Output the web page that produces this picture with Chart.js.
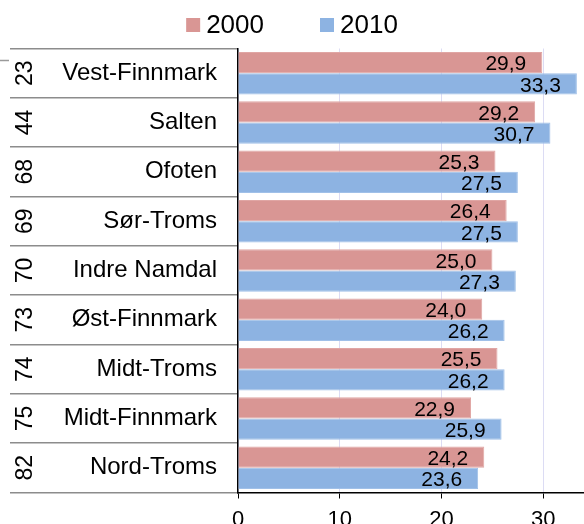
<!DOCTYPE html>
<html>
<head>
<meta charset="utf-8">
<script src="https://cdn.jsdelivr.net/npm/chart.js@4/dist/chart.umd.min.js"></script>
<style>
  html, body { margin: 0; padding: 0; background: #fff; overflow: hidden; }
  #wrap { width: 584px; height: 524px; }
</style>
</head>
<body>
<div id="wrap"><canvas id="chart"></canvas></div>
<script>
const regionCodes = ['23', '44', '68', '69', '70', '73', '74', '75', '82'];
const regions = ['Vest-Finnmark', 'Salten', 'Ofoten', 'Sør-Troms', 'Indre Namdal', 'Øst-Finnmark', 'Midt-Troms', 'Midt-Finnmark', 'Nord-Troms'];
const values2000 = [29.9, 29.2, 25.3, 26.4, 25.0, 24.0, 25.5, 22.9, 24.2];
const values2010 = [33.3, 30.7, 27.5, 27.5, 27.3, 26.2, 26.2, 25.9, 23.6];
const seriesLabels = ['2000', '2010'];
const xTickValues = [0, 10, 20, 30];

const colors = {
  red: '#d99694',
  redEdge: '#e0a6a4',
  blue: '#8db3e2',
  blueEdge: '#a0c0e8',
};

const FONT = '"Liberation Sans", Arial, Helvetica, sans-serif';

function formatValue(value) {
  return value.toFixed(1).replace('.', ',');
}

// region codes (rotated) and names to the left of the axis
const regionTable = {
  id: 'regionTable',
  afterDraw(chart) {
    const { ctx } = chart;
    const yScale = chart.scales.y;
    ctx.save();
    ctx.fillStyle = '#000';
    ctx.textBaseline = 'middle';
    regions.forEach((name, i) => {
      const y = yScale.getPixelForValue(i);
      ctx.font = `24px ${FONT}`;
      ctx.textAlign = 'right';
      ctx.fillText(name, yScale.right - 21, y);

      ctx.save();
      ctx.translate(25, y);
      ctx.rotate(-Math.PI / 2);
      ctx.textAlign = 'center';
      ctx.font = `23px ${FONT}`;
      ctx.fillText(regionCodes[i], 0, 1);
      ctx.restore();
    });
    // short stub in the left margin
    ctx.strokeStyle = '#9a9a9a';
    ctx.lineWidth = 1.5;
    ctx.beginPath();
    ctx.moveTo(0, yScale.top + 12);
    ctx.lineTo(9, yScale.top + 12);
    ctx.stroke();
    ctx.restore();
  },
};

// value labels just inside the end of each bar
const barValues = {
  id: 'barValues',
  afterDatasetsDraw(chart) {
    const { ctx } = chart;
    ctx.save();
    ctx.font = `21px ${FONT}`;
    ctx.fillStyle = '#000';
    ctx.textAlign = 'right';
    ctx.textBaseline = 'middle';
    chart.data.datasets.forEach((dataset, di) => {
      chart.getDatasetMeta(di).data.forEach((bar, i) => {
        ctx.fillText(formatValue(dataset.data[i]), bar.x - 16, bar.y + 2);
      });
    });
    ctx.restore();
  },
};

// legend row above the plot
const topLegend = {
  id: 'topLegend',
  afterDraw(chart) {
    const { ctx } = chart;
    const box = 14;
    const gap = 6;
    const spacing = 56;
    const y = 25;
    ctx.save();
    ctx.font = `26px ${FONT}`;
    ctx.textBaseline = 'middle';
    ctx.textAlign = 'left';
    const items = chart.data.datasets.map((ds) => ({
      label: ds.label,
      color: ds.backgroundColor,
      width: box + gap + ctx.measureText(ds.label).width,
    }));
    const total = items.reduce((sum, item) => sum + item.width, 0) + spacing * (items.length - 1);
    let x = chart.width / 2 - total / 2;
    items.forEach((item) => {
      ctx.fillStyle = item.color;
      ctx.fillRect(x, y - box / 2, box, box);
      ctx.fillStyle = '#000';
      ctx.fillText(item.label, x + box + gap, y + 1);
      x += item.width + spacing;
    });
    ctx.restore();
  },
};

new Chart(document.querySelector('#chart'), {
  type: 'bar',
  data: {
    labels: regions,
    datasets: [
      {
        label: seriesLabels[0],
        data: values2000,
        backgroundColor: colors.red,
        borderColor: colors.redEdge,
        borderWidth: 1,
      },
      {
        label: seriesLabels[1],
        data: values2010,
        backgroundColor: colors.blue,
        borderColor: colors.blueEdge,
        borderWidth: 1,
      },
    ],
  },
  options: {
    indexAxis: 'y',
    responsive: true,
    maintainAspectRatio: false,
    animation: false,
    devicePixelRatio: 1,
    categoryPercentage: 0.86,
    barPercentage: 1,
    layout: { padding: { top: 48.5, right: 0, bottom: 0, left: 0 } },
    plugins: {
      legend: { display: false },
      tooltip: { enabled: false },
    },
    scales: {
      x: {
        min: 0,
        max: 34,
        afterBuildTicks: (scale) => {
          scale.ticks = xTickValues.map((value) => ({ value }));
        },
        afterFit: (scale) => {
          scale.height = 31.5;
        },
        grid: {
          color: '#dcdcf4',
          lineWidth: 1,
          tickColor: '#000',
          tickLength: 6,
        },
        border: { color: '#000', width: 1.5 },
        ticks: {
          color: '#000',
          padding: 8,
          font: { family: FONT, size: 22 },
        },
      },
      y: {
        afterFit: (scale) => {
          scale.width = 238;
        },
        grid: {
          drawOnChartArea: false,
          tickLength: 228,
          color: '#8c8c8c',
          lineWidth: 1.5,
        },
        border: { color: '#000', width: 1.5 },
        ticks: { display: false },
      },
    },
  },
  plugins: [regionTable, barValues, topLegend],
});
</script>
</body>
</html>
